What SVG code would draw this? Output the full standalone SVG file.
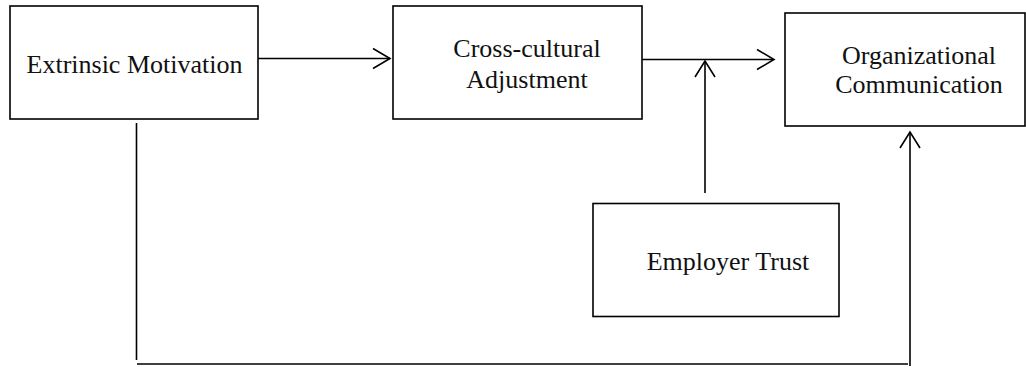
<svg xmlns="http://www.w3.org/2000/svg" width="1026" height="367" viewBox="0 0 1026 367">
<style>
.box{fill:#fff;stroke:#000;stroke-width:1.6}
.lbl{font-family:"Liberation Serif","Times New Roman",serif;font-size:26px;fill:#111;text-anchor:middle}
.ln{fill:none;stroke:#000;stroke-width:1.6}
.hd{fill:none;stroke:#000;stroke-width:1.6;stroke-linecap:butt;stroke-linejoin:miter}
</style>
<g id="connectors">
<line class="ln" x1="258" y1="58.5" x2="390" y2="58.5"/>
<polyline class="hd" points="373,48.5 390,58.5 373,68.5"/>
<line class="ln" x1="642" y1="59.5" x2="773" y2="59.5"/>
<polyline class="hd" points="757,49.5 774,59.5 757,69.5"/>
<line class="ln" x1="705" y1="193" x2="705" y2="61"/>
<polyline class="hd" points="695,77 705,61 715,77"/>
<polyline class="ln" points="136.5,123 136.5,360"/>
<line class="ln" x1="137" y1="364" x2="908" y2="364"/>
<line class="ln" x1="910" y1="366" x2="910" y2="132"/>
<polyline class="hd" points="900,148 910,132 920,148"/>
</g>
<g id="node-extrinsic">
<rect class="box" x="10" y="6" width="248" height="113"/>
<text class="lbl" x="134.5" y="73">Extrinsic Motivation</text>
</g>
<g id="node-adjustment">
<rect class="box" x="393" y="6" width="249" height="113"/>
<text class="lbl" x="527" y="57">Cross-cultural</text>
<text class="lbl" x="527" y="88">Adjustment</text>
</g>
<g id="node-communication">
<rect class="box" x="785" y="13" width="240" height="113"/>
<text class="lbl" x="919" y="64">Organizational</text>
<text class="lbl" x="919" y="93">Communication</text>
</g>
<g id="node-trust">
<rect class="box" x="593" y="203.5" width="246" height="113"/>
<text class="lbl" x="728" y="270">Employer Trust</text>
</g>
</svg>
